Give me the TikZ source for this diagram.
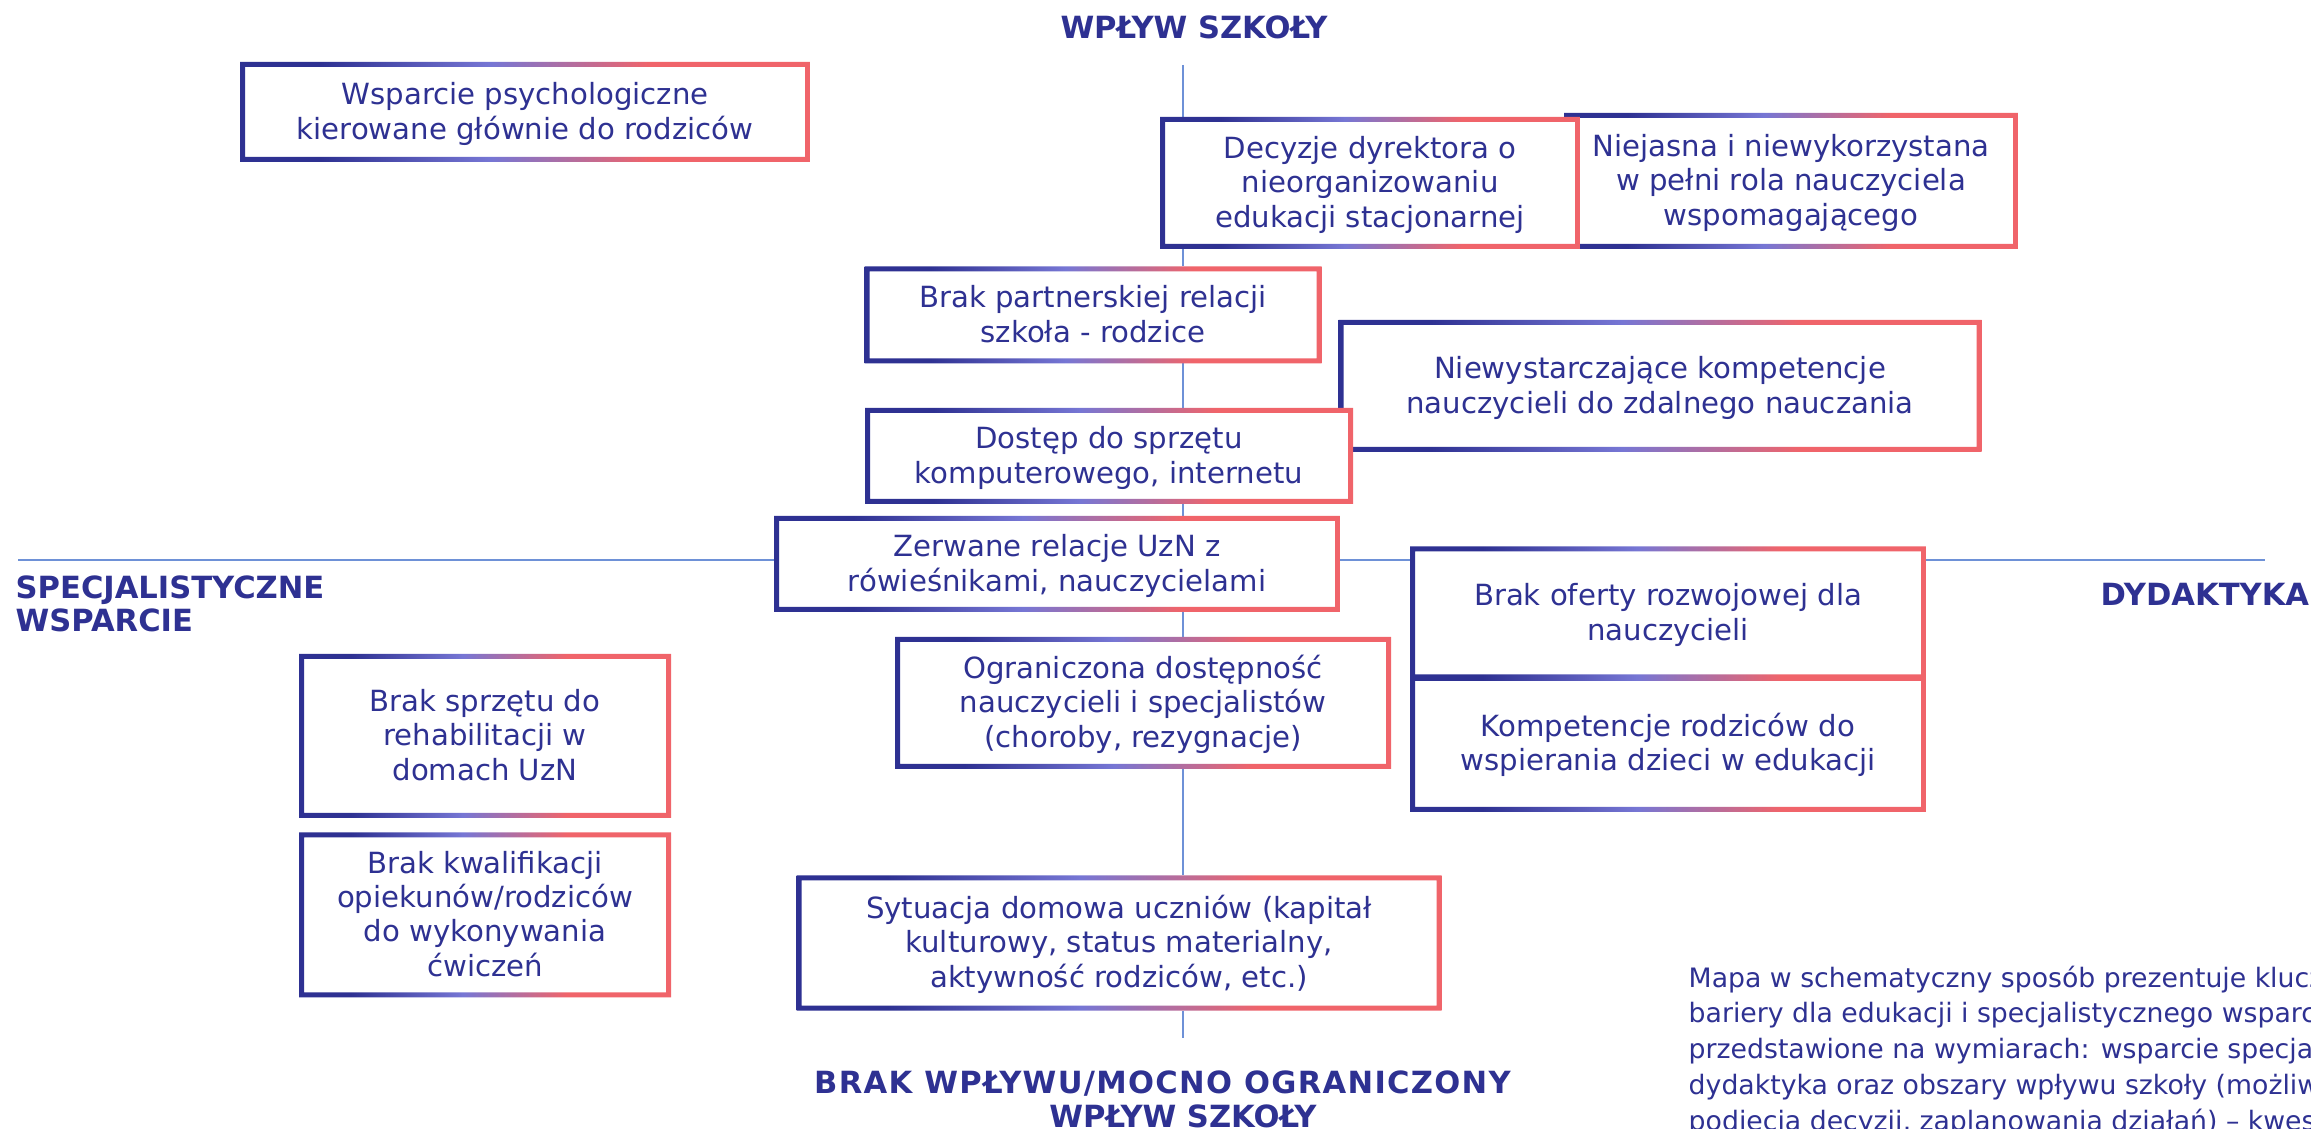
\documentclass[tikz,border=0pt]{standalone}
\usepackage{fontspec}
\setmainfont{DejaVu Sans}
\usetikzlibrary{positioning}
\definecolor{navy}{RGB}{46,49,146}
\definecolor{lilac}{RGB}{118,118,212}
\definecolor{coral}{RGB}{240,100,106}
\definecolor{axisblue}{RGB}{110,145,215}
\pgfdeclarehorizontalshading{gframe}{100bp}{color(0bp)=(navy); color(32bp)=(navy);
  color(47bp)=(lilac); color(61bp)=(coral); color(100bp)=(coral)}
% struts, so that every box centres its lines the same way
\newcommand{\lineup}{\rule{0pt}{8pt}}
\newcommand{\linedn}{\rule[-2.4pt]{0pt}{2.4pt}}
\tikzset{
  barrier/.style   = {fill=white, inner sep=0pt, align=center, text=navy,
                      font=\fontsize{8.3}{9.8}\selectfont,
                      path picture={\shade[shading=gframe, even odd rule]
                        (path picture bounding box.south west) rectangle (path picture bounding box.north east)
                        ([xshift=0.5mm,yshift=0.5mm]path picture bounding box.south west) rectangle
                        ([xshift=-0.5mm,yshift=-0.5mm]path picture bounding box.north east);}},
  axislabel/.style = {text=navy, inner sep=0pt, font=\fontsize{8.7}{9.6}\selectfont\bfseries},
  axisline/.style  = {axisblue, line width=0.2mm}
}

\begin{document}
\begin{tikzpicture}[x=0.1mm, y=-0.1mm]
\useasboundingbox (0,0) rectangle (2311,1129);
\clip (0,0) rectangle (2311,1129);

% the two axes
\coordinate (vtop) at (1183,65);
\coordinate (vbot) at (1183,1038);
\coordinate (hleft) at (18,560);
\coordinate (hright) at (2265,560);
\draw[axisline] (vtop) -- (vbot);
\draw[axisline] (hleft) -- (hright);

% axis labels
\node[axislabel] (wplyw) at (1194,27) {WPŁYW SZKOŁY};
\node[axislabel, anchor=west, align=left] (specjalist) at (15,604) {SPECJALISTYCZNE\\WSPARCIE};
\node[axislabel, anchor=west] (dydaktyka) at (2100,594) {DYDAKTYKA};
\node[axislabel, align=center] (brakwplywu) at (1183,1099)
  {{\addfontfeature{LetterSpace=4.3}BRAK WPŁYWU/MOCNO OGRANICZONY}\hspace*{4.1mm}\\WPŁYW SZKOŁY};

% barriers, upper half
\node[barrier, minimum width=5.70cm, minimum height=1.00cm] (wsparcie) at (525,112)
  {\lineup Wsparcie psychologiczne\\kierowane głównie do rodziców\linedn};
\node[barrier, minimum width=4.54cm, minimum height=1.36cm] (niejasna) at (1791,181)
  {\lineup Niejasna i niewykorzystana\\w pełni rola nauczyciela\\wspomagającego\linedn};
\node[barrier, minimum width=4.20cm, minimum height=1.32cm] (decyzje) at (1370,183)
  {\lineup Decyzje dyrektora o\\nieorganizowaniu\\edukacji stacjonarnej\linedn};
\node[barrier, minimum width=4.57cm, minimum height=0.97cm] (partnerstwo) at (1093,315)
  {\lineup Brak partnerskiej relacji\\szkoła - rodzice\linedn};
\node[barrier, minimum width=6.43cm, minimum height=1.32cm] (kompetencje) at (1660,386)
  {\lineup Niewystarczające kompetencje\\nauczycieli do zdalnego nauczania\linedn};
\node[barrier, minimum width=4.88cm, minimum height=0.96cm] (sprzet) at (1109,456)
  {\lineup Dostęp do sprzętu\\komputerowego, internetu\linedn};
\node[barrier, minimum width=5.66cm, minimum height=0.96cm] (relacje) at (1057,564)
  {\lineup Zerwane relacje UzN z\\rówieśnikami, nauczycielami\linedn};

% barriers, lower half
\node[barrier, minimum width=5.16cm, minimum height=1.33cm] (oferta) at (1668,613)
  {\lineup Brak oferty rozwojowej dla\\nauczycieli\linedn};
\node[barrier, minimum width=5.16cm, minimum height=1.36cm, below=-0.5mm of oferta] (rodzice)
  {\lineup Kompetencje rodziców do\\wspierania dzieci w edukacji\linedn};
\node[barrier, minimum width=4.96cm, minimum height=1.32cm] (dostepnosc) at (1143,703)
  {\lineup Ograniczona dostępność\\nauczycieli i specjalistów\\(choroby, rezygnacje)\linedn};
\node[barrier, minimum width=3.72cm, minimum height=1.64cm] (rehabilitacja) at (485,736)
  {\lineup Brak sprzętu do\\rehabilitacji w\\domach UzN\linedn};
\node[barrier, minimum width=3.72cm, minimum height=1.65cm, below=1.3mm of rehabilitacja] (kwalifikacje)
  {\lineup Brak kwalifikacji\\opiekunów/rodziców\\do wykonywania\\ćwiczeń\linedn};
\node[barrier, minimum width=6.45cm, minimum height=1.35cm] (sytuacja) at (1119,943)
  {\lineup Sytuacja domowa uczniów (kapitał\\kulturowy, status materialny,\\aktywność rodziców, etc.)\linedn};

% note in the corner
\node[anchor=north west, align=left, text=navy, inner sep=0pt,
      font=\fontsize{7.6}{10.2}\selectfont] (opis) at (1688,965)
  {Mapa w schematyczny sposób prezentuje klucz\\
   bariery dla edukacji i specjalistycznego wsparc\\
   przedstawione na wymiarach: wsparcie specja\\
   dydaktyka oraz obszary wpływu szkoły (możliw\\
   podjęcia decyzji, zaplanowania działań) – kwes};
\end{tikzpicture}
\end{document}
